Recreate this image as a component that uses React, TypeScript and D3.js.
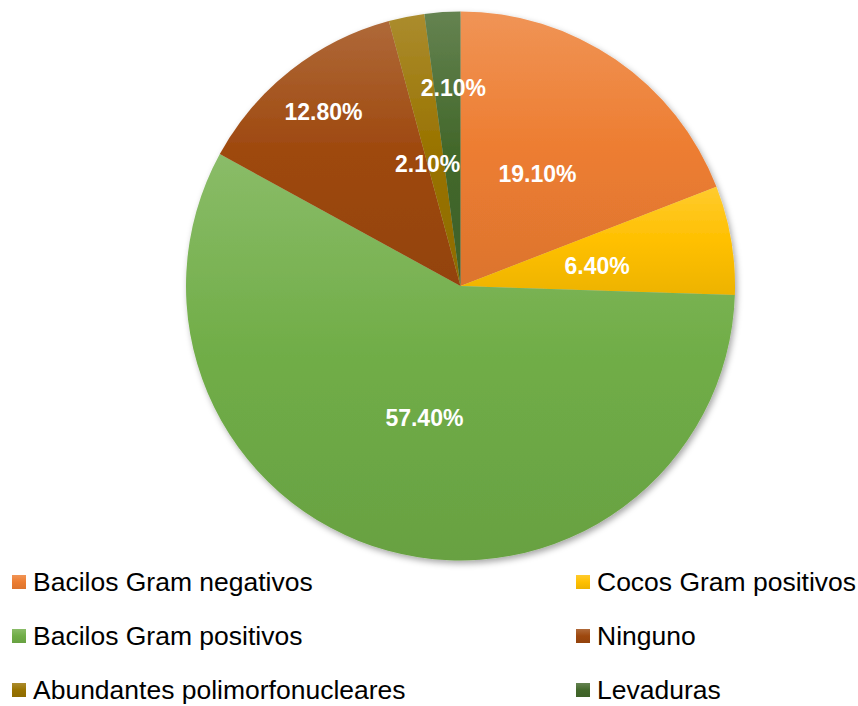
import React from "react";
import * as d3 from "d3";

const categories = [
  "Bacilos Gram negativos",
  "Cocos Gram positivos",
  "Bacilos Gram positivos",
  "Ninguno",
  "Abundantes polimorfonucleares",
  "Levaduras",
];
const values = [19.1, 6.4, 57.4, 12.8, 2.1, 2.1];
const labels = ["19.10%", "6.40%", "57.40%", "12.80%", "2.10%", "2.10%"];
const colors = ["#ED7D31", "#FFC000", "#70AD47", "#9E480E", "#997300", "#43682B"];

// layout for data labels (radius fraction, angle offset in degrees)
const labelRadius = [0.496, 0.503, 0.498, 0.807, 0.461, 0.72];
const labelAngleOffset = [0, 1.2, 0, 0, -3.7, 1.7];

const W = 858;
const H = 706;
const cx = 460.5;
const cy = 286;
const R = 274.5;

export default function App() {
  const pie = d3
    .pie<number>()
    .sort(null)
    .value((d) => d)
    .startAngle(0)
    .endAngle(Math.PI * 2);
  const arcs = pie(values);
  const arcGen = d3.arc<d3.PieArcDatum<number>>().innerRadius(0).outerRadius(R);

  const lighten = (c: string, t: number) => d3.interpolateRgb(c, "#ffffff")(t);
  const darken = (c: string, t: number) => d3.interpolateRgb(c, "#000000")(t);

  const legendRows = [
    { i: 0, x: 12, y: 582 },
    { i: 1, x: 576, y: 582 },
    { i: 2, x: 12, y: 636 },
    { i: 3, x: 576, y: 636 },
    { i: 4, x: 12, y: 690 },
    { i: 5, x: 576, y: 690 },
  ];

  return (
    <svg
      width={W}
      height={H}
      style={{ position: "absolute", left: 0, top: 0, background: "#fff" }}
    >
      <defs>
        {colors.map((c, i) => (
          <linearGradient key={i} id={`g${i}`} x1="0" y1="0" x2="0" y2="1">
            <stop offset="0%" stopColor={lighten(c, 0.18)} />
            <stop offset="50%" stopColor={c} />
            <stop offset="100%" stopColor={darken(c, 0.07)} />
          </linearGradient>
        ))}
        <filter id="shadow" x="-10%" y="-10%" width="125%" height="125%">
          <feDropShadow dx="2" dy="3" stdDeviation="3" floodColor="#000" floodOpacity="0.35" />
        </filter>
      </defs>
      <g transform={`translate(${cx},${cy})`}>
        <g filter="url(#shadow)">
          {arcs.map((a, i) => (
            <path key={i} d={arcGen(a) || ""} fill={`url(#g${i})`} />
          ))}
        </g>
        {arcs.map((a, i) => {
          const mid = (a.startAngle + a.endAngle) / 2 + (labelAngleOffset[i] * Math.PI) / 180;
          const r = labelRadius[i] * R;
          const x = Math.sin(mid) * r;
          const y = -Math.cos(mid) * r;
          return (
            <text
              key={i}
              transform={`translate(${x},${y})`}
              textAnchor="middle"
              dominantBaseline="central"
              fill="#fff"
              fontFamily="Liberation Sans, Arial, sans-serif"
              fontWeight="bold"
              fontSize={23}
            >
              {labels[i]}
            </text>
          );
        })}
      </g>
      {legendRows.map(({ i, x, y }) => (
        <g key={i}>
          <rect x={x} y={y - 7} width={14} height={14} fill={`url(#g${i})`} />
          <text
            transform={`translate(${x + 21},${y + 9}) scale(1.06,1)`}
            fill="#000"
            fontFamily="Liberation Sans, Arial, sans-serif"
            fontSize={25}
          >
            {categories[i]}
          </text>
        </g>
      ))}
    </svg>
  );
}
